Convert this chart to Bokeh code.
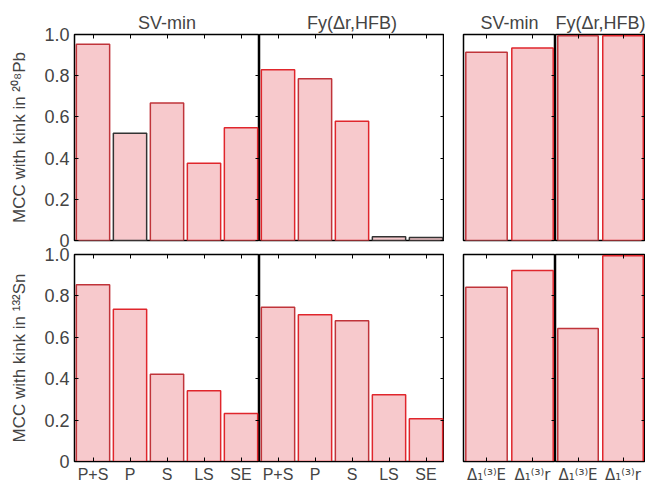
from bokeh.plotting import figure
from bokeh.models import FactorRange, Range1d, LinearAxis, CategoricalAxis, FixedTicker, CustomJSTickFormatter
from bokeh.layouts import row, column
from bokeh.embed import file_html
from bokeh.resources import INLINE

# ---- data ----
forces = ["P+S", "P", "S", "LS", "SE"]
kinks = ["Δ₁⁽³⁾E", "Δ₁⁽³⁾r"]
titles = ["SV-min", "Fy(Δr,HFB)"]
pb_svmin = [0.953, 0.521, 0.667, 0.375, 0.547]
pb_fy = [0.829, 0.785, 0.579, 0.018, 0.015]
pb_svmin_kink = [0.914, 0.934]
pb_fy_kink = [0.994, 0.994]
sn_svmin = [0.854, 0.736, 0.422, 0.342, 0.232]
sn_fy = [0.745, 0.709, 0.680, 0.322, 0.206]
sn_svmin_kink = [0.842, 0.923]
sn_fy_kink = [0.643, 0.994]
y_ticks = [0, 0.2, 0.4, 0.6, 0.8, 1.0]
y_tick_labels = ["0", "0.2", "0.4", "0.6", "0.8", "1.0"]
y_labels = ["MCC with kink in ²⁰⁸Pb", "MCC with kink in ¹³²Sn"]

# ---- styles ----
FILL = "#f7c9cc"
DR = "#c0343a"
RD = "#e0262c"
BK = "#333333"
FONT = "Liberation Sans"
pb_svmin_edges = [DR, BK, DR, RD, RD]
pb_fy_edges = [RD, DR, RD, BK, BK]
red5 = [DR, RD, DR, RD, RD]
red2 = [DR, RD]


def empty_fmt():
    return CustomJSTickFormatter(code="return ''")


def panel(cats, vals, edges, fw, fh, bl, bt, bb, title=None, ylabel=None,
          show_x=False, xfont=FONT, xsize="16px"):
    p = figure(x_range=FactorRange(*cats, range_padding=0), y_range=Range1d(0, 1),
               frame_width=fw, frame_height=fh,
               output_backend="svg", toolbar_location=None, tools="")
    p.min_border = 0
    p.min_border_left = bl
    p.min_border_top = bt
    p.min_border_bottom = bb
    p.min_border_right = 0
    p.outline_line_color = "black"
    p.outline_line_width = 1.5
    p.grid.visible = False
    p.background_fill_color = "white"
    p.border_fill_color = None
    p.vbar(x=cats, top=vals, width=0.9, bottom=0, fill_color=FILL,
           line_color=edges, line_width=1.5)
    if title:
        p.title.text = title
        p.title.align = "center"
        p.title.text_font = FONT
        p.title.text_font_size = "18px"
        p.title.text_font_style = "normal"
        p.title.standoff = 4
    # left axis
    ya = p.yaxis[0]
    if ylabel:
        ya.ticker = FixedTicker(ticks=y_ticks)
        ya.major_label_overrides = {t: l for t, l in zip(y_ticks, y_tick_labels)}
        ya.major_label_text_font = FONT
        ya.major_label_text_font_size = "18px"
        ya.major_tick_in = 4
        ya.major_tick_out = 0
        ya.minor_tick_line_color = None
        ya.axis_line_color = "black"
        ya.major_label_standoff = 5
        ya.axis_label = ylabel
        ya.axis_label_text_font = FONT
        ya.axis_label_text_font_size = "17px"
        ya.axis_label_text_font_style = "normal"
        ya.axis_label_standoff = 12
    else:
        ya.visible = False
    # bottom axis
    xa = p.xaxis[0]
    if show_x:
        xa.major_label_text_font = xfont
        xa.major_label_text_font_size = xsize
        xa.major_tick_in = 4
        xa.major_tick_out = 0
        xa.major_label_standoff = 4
        xa.axis_line_color = "black"
    else:
        xa.visible = False
    # top axis (ticks only)
    ta = CategoricalAxis(major_tick_in=4, major_tick_out=0, major_label_standoff=0,
                         formatter=empty_fmt(), axis_line_color=None)
    p.add_layout(ta, "above")
    # right axis (ticks only)
    ra = LinearAxis(ticker=FixedTicker(ticks=y_ticks), formatter=empty_fmt(),
                    major_tick_in=4, major_tick_out=0, major_label_standoff=0,
                    minor_tick_line_color=None, axis_line_color=None)
    p.add_layout(ra, "right")
    return p


top = row(
    panel(forces, pb_svmin, pb_svmin_edges, 185, 206, 74, 34, 17, titles[0], y_labels[0]),
    panel(forces, pb_fy, pb_fy_edges, 185, 206, 0, 34, 17, titles[1]),
    panel(kinks, pb_svmin_kink, red2, 92, 206, 19, 34, 17, titles[0]),
    panel(kinks, pb_fy_kink, red2, 90, 206, 0, 34, 17, titles[1]),
)
bottom = row(
    panel(forces, sn_svmin, red5, 185, 207, 74, 17, 26, None, y_labels[1], True),
    panel(forces, sn_fy, red5, 185, 207, 0, 17, 26, None, None, True),
    panel(kinks, sn_svmin_kink, red2, 92, 207, 19, 17, 26, None, None, True,
          "DejaVu Sans", "15px"),
    panel(kinks, sn_fy_kink, red2, 90, 207, 0, 17, 26, None, None, True,
          "DejaVu Sans", "15px"),
)
bottom.styles = {"margin-top": "-20px"}
layout = column(top, bottom)

open("out.html", "w").write(file_html(layout, INLINE))
